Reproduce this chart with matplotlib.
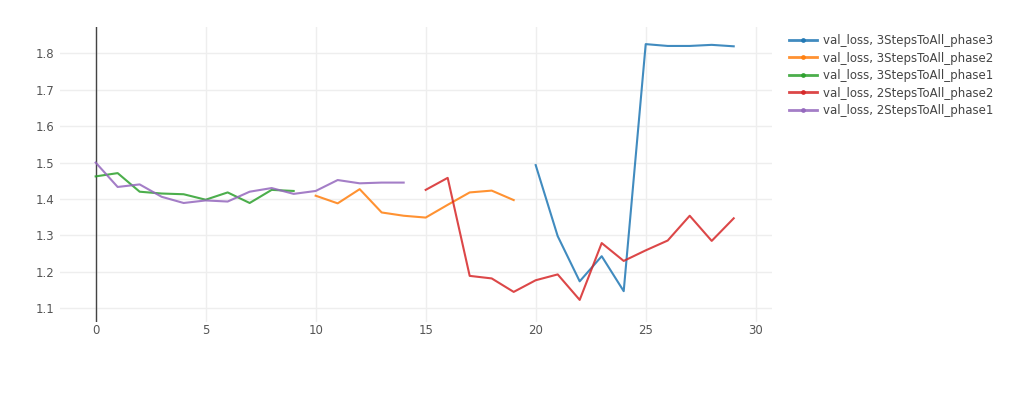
import numpy as np
from matplotlib import pyplot as plt

# epochs and val_loss for each run
x_3s_p3 = list(range(20, 30))
y_3s_p3 = [1.493, 1.298, 1.174, 1.243, 1.147, 1.825, 1.820, 1.820, 1.823, 1.819]

x_3s_p2 = list(range(10, 20))
y_3s_p2 = [1.409, 1.388, 1.427, 1.363, 1.354, 1.349, 1.384, 1.418, 1.423, 1.397]

x_3s_p1 = list(range(0, 10))
y_3s_p1 = [1.462, 1.471, 1.420, 1.415, 1.413, 1.398, 1.418, 1.389, 1.425, 1.422]

x_2s_p2 = list(range(15, 30))
y_2s_p2 = [1.425, 1.458, 1.189, 1.182, 1.145, 1.177, 1.193, 1.123, 1.279, 1.230,
           1.259, 1.286, 1.354, 1.285, 1.347]

x_2s_p1 = list(range(0, 15))
y_2s_p1 = [1.500, 1.433, 1.440, 1.406, 1.389, 1.396, 1.393, 1.420, 1.430, 1.414,
           1.422, 1.452, 1.443, 1.445, 1.445]

series = [
    ("val_loss, 3StepsToAll_phase3", x_3s_p3, y_3s_p3, "#1f77b4"),
    ("val_loss, 3StepsToAll_phase2", x_3s_p2, y_3s_p2, "#ff7f0e"),
    ("val_loss, 3StepsToAll_phase1", x_3s_p1, y_3s_p1, "#2ca02c"),
    ("val_loss, 2StepsToAll_phase2", x_2s_p2, y_2s_p2, "#d62728"),
    ("val_loss, 2StepsToAll_phase1", x_2s_p1, y_2s_p1, "#9467bd"),
]

W, H = 1024, 396
fig = plt.figure(figsize=(W / 100, H / 100), dpi=100)
left, right, top, bottom = 60, 772, 27, 322
ax = fig.add_axes([left / W, 1 - bottom / H, (right - left) / W, (bottom - top) / H])

for name, xs, ys, c in series:
    ax.plot(xs, ys, color=c, lw=1.5, alpha=0.85, label=name, solid_joinstyle="round")

ax.set_xlim(-1.62, 30.74)
ax.set_ylim(1.0624, 1.872)
ax.set_xticks(range(0, 31, 5))
ax.set_yticks(np.round(np.arange(1.1, 1.81, 0.1), 1))
ax.grid(True, color="#eeeeee", lw=1)
ax.set_axisbelow(True)
ax.axvline(0, color="#444444", lw=1, zorder=1)
for s in ax.spines.values():
    s.set_visible(False)
ax.tick_params(length=0, labelsize=8.5, labelcolor="#555555")
ax.tick_params(axis="x", pad=1.5)
ax.tick_params(axis="y", pad=4)

# legend lines with the small marker dot as plotly shows
leg_handles = []
for name, xs, ys, c in series:
    lh, = ax.plot([], [], color=c, lw=2, alpha=0.85, marker="o", markersize=2.5)
    leg_handles.append(lh)
leg = fig.legend(leg_handles, [s[0] for s in series], loc="upper left",
                 bbox_to_anchor=(778 / W, 1 - 23.5 / H), frameon=False,
                 fontsize=8.5, handlelength=2.4, handletextpad=0.5,
                 labelspacing=0.38, markerfirst=True)
for t in leg.get_texts():
    t.set_color("#444444")

fig.savefig("out.png", dpi=100)
